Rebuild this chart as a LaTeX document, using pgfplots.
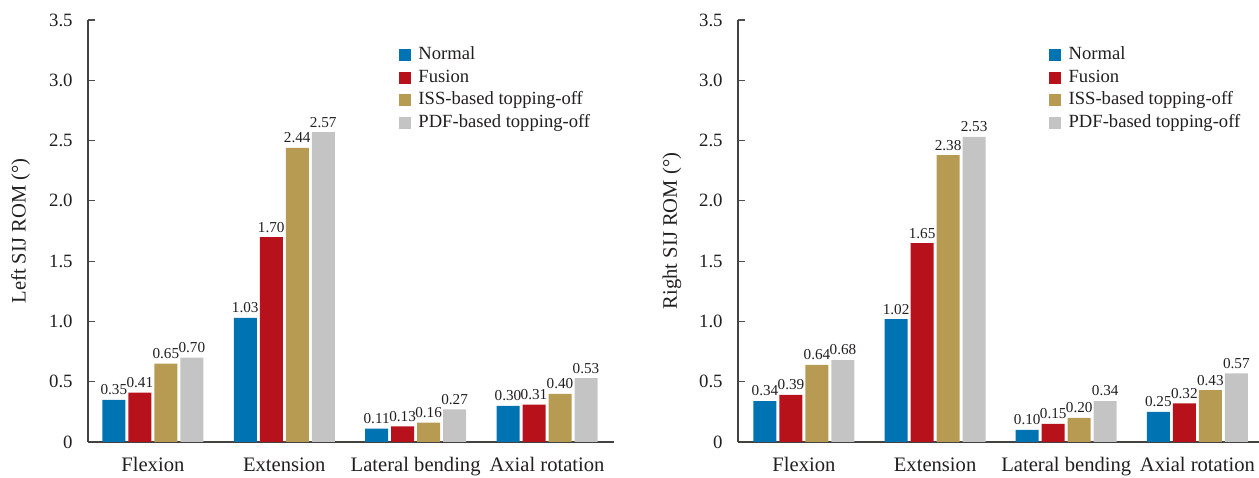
\documentclass[border=0pt]{standalone}
\usepackage{pgfplots}
\pgfplotsset{compat=1.18}
\usepackage{fontspec}
\setmainfont{Liberation Serif}
\definecolor{cNormal}{RGB}{0,115,178}
\definecolor{cFusion}{RGB}{183,18,27}
\definecolor{cISS}{RGB}{184,155,82}
\definecolor{cPDF}{RGB}{196,196,196}
\definecolor{txt}{RGB}{35,31,32}
\pgfplotsset{
  /pgf/number format/assume math mode=true,
  sijstyle/.style={
    scale only axis, height=211bp,
    ybar=1.5bp, bar width=11.5bp,
    ymin=0, ymax=3.5, enlargelimits=false,
    axis x line*=bottom, axis y line*=left,
    x axis line style={-, line width=0.75bp, color=txt!85},
    y axis line style={-, line width=0.75bp, color=txt!85},
    xtick={0,1,2,3},
    xticklabels={Flexion,Extension,Lateral bending,Axial rotation},
    major x tick style={draw=none},
    ytick={0,0.5,1,1.5,2,2.5,3,3.5},
    yticklabels={0,0.5,1.0,1.5,2.0,2.5,3.0,3.5},
    tick align=inside, major tick length=3.5bp,
    major y tick style={line width=0.6bp, color=txt!80},
    yticklabel style={font=\fontsize{9.4bp}{11bp}\selectfont, text=txt, inner sep=0pt, xshift=-7.5bp},
    xticklabel style={font=\fontsize{10.3bp}{12bp}\selectfont, text=txt, inner sep=0pt, yshift=-7.5bp},
    ylabel style={font=\fontsize{10.3bp}{12bp}\selectfont, text=txt, at={(axis description cs:-0.128,0.5)}, anchor=center},
    nodes near coords,
    nodes near coords style={font=\fontsize{7.6bp}{9bp}\selectfont, text=txt, inner sep=0pt, yshift=2.2bp},
    every node near coord/.append style={/pgf/number format/.cd, fixed, fixed zerofill, precision=2, assume math mode=true},
    legend style={draw=none, fill=none, font=\fontsize{9.3bp}{11bp}\selectfont, text=txt, inner sep=0pt, row sep=2.75bp, cells={anchor=west},
      nodes={text height=6.5bp, text depth=2bp, inner ysep=0pt, inner xsep=3.6bp}},
    legend image code/.code={\fill[##1, draw=none] (0bp,-3bp) rectangle (6bp,3bp);},
  }
}
\begin{document}
\begin{tikzpicture}
\begin{axis}[sijstyle, at={(44bp,18bp)}, anchor=south west, width=263bp,
  xmin=-0.494, xmax=3.51, ylabel={Left SIJ ROM (°)},
  legend style={at={(0.591,0.937)}, anchor=north west}]
\addplot[fill=cNormal, draw=none] coordinates {(0,0.35) (1,1.03) (2,0.11) (3,0.30)};
\addplot[fill=cFusion, draw=none] coordinates {(0,0.41) (1,1.70) (2,0.13) (3,0.31)};
\addplot[fill=cISS, draw=none] coordinates {(0,0.65) (1,2.44) (2,0.16) (3,0.40)};
\addplot[fill=cPDF, draw=none] coordinates {(0,0.70) (1,2.57) (2,0.27) (3,0.53)};
\legend{Normal,Fusion,ISS-based topping-off,PDF-based topping-off}
\end{axis}
\begin{axis}[sijstyle, at={(369bp,18bp)}, anchor=south west, width=260.5bp,
  xmin=-0.503, xmax=3.47, ylabel={Right SIJ ROM (°)},
  ylabel style={at={(axis description cs:-0.127,0.5)}},
  legend style={at={(0.597,0.937)}, anchor=north west}]
\addplot[fill=cNormal, draw=none] coordinates {(0,0.34) (1,1.02) (2,0.10) (3,0.25)};
\addplot[fill=cFusion, draw=none] coordinates {(0,0.39) (1,1.65) (2,0.15) (3,0.32)};
\addplot[fill=cISS, draw=none] coordinates {(0,0.64) (1,2.38) (2,0.20) (3,0.43)};
\addplot[fill=cPDF, draw=none] coordinates {(0,0.68) (1,2.53) (2,0.34) (3,0.57)};
\legend{Normal,Fusion,ISS-based topping-off,PDF-based topping-off}
\end{axis}
\pgfresetboundingbox
\path[use as bounding box] (0,0) rectangle (629.5bp,239bp);
\end{tikzpicture}
\end{document}
